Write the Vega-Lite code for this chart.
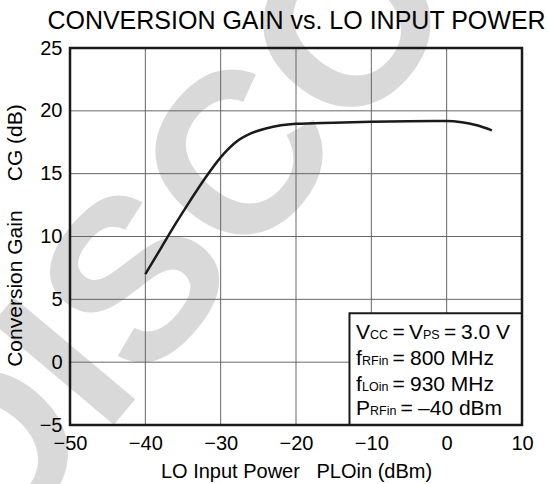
{
  "$schema": "https://vega.github.io/schema/vega-lite/v6.json",
  "width": 452,
  "height": 377,
  "autosize": {"type": "none"},
  "padding": {"left": 70, "top": 48, "right": 27, "bottom": 59},
  "background": "white",
  "config": {"view": {"stroke": null}, "font": "Liberation Sans"},
  "encoding": {
    "x": {"field": "x", "type": "quantitative", "scale": {"domain": [-50, 10], "nice": false, "zero": false},
      "axis": {"values": [-50, -40, -30, -20, -10, 0, 10], "title": "LO Input Power\u00a0\u00a0\u00a0PLOin (dBm)", "grid": false, "domain": false, "ticks": false, "labelPadding": 8, "labelFontSize": 20, "labelColor": "black", "labelFlush": false, "labelOverlap": false, "titleFontSize": 20, "titleFontWeight": "normal", "titleColor": "black", "titleBaseline": "alphabetic", "titleY": 52, "zindex": 1}},
    "y": {"field": "y", "type": "quantitative", "scale": {"domain": [-5, 25], "nice": false, "zero": false},
      "axis": {"values": [-5, 0, 5, 10, 15, 20, 25], "title": "Conversion Gain\u00a0\u00a0\u00a0\u00a0\u00a0CG (dB)", "grid": false, "domain": false, "ticks": false, "labelPadding": 8, "labelFontSize": 20, "labelColor": "black", "labelFlush": false, "labelOverlap": false, "titleFontSize": 21, "titleFontWeight": "normal", "titleColor": "black", "titleBaseline": "alphabetic", "titleAlign": "center", "titleAngle": -90, "titleX": -49, "titleY": 187, "zindex": 1}}
  },
  "layer": [
    {
      "layer": [
        {
          "data": {"values": [{"x": -35.6, "y": 9.7, "t": "DISCO"}]},
          "mark": {"type": "text", "font": "Liberation Sans", "fontWeight": "bold", "fontSize": 230, "angle": 310, "align": "center", "baseline": "middle", "color": "#d9d9d9"},
          "encoding": {"text": {"field": "t"}}
        },
        {
          "data": {"values": [{"x": -40, "y": -5, "y2": 25}, {"x": -30, "y": -5, "y2": 25}, {"x": -20, "y": -5, "y2": 25}, {"x": -10, "y": -5, "y2": 25}, {"x": 0, "y": -5, "y2": 25}]},
          "mark": {"type": "rule", "color": "#666666", "strokeWidth": 1},
          "encoding": {"y2": {"field": "y2"}}
        },
        {
          "data": {"values": [{"y": 0, "x": -50, "x2": 10}, {"y": 5, "x": -50, "x2": 10}, {"y": 10, "x": -50, "x2": 10}, {"y": 15, "x": -50, "x2": 10}, {"y": 20, "x": -50, "x2": 10}]},
          "mark": {"type": "rule", "color": "#666666", "strokeWidth": 1},
          "encoding": {"x2": {"field": "x2"}}
        },
        {
          "data": {"values": [
            {"x": -40, "y": 7.0}, {"x": -38, "y": 9.0}, {"x": -36, "y": 11.0}, {"x": -34, "y": 12.9},
            {"x": -32, "y": 14.7}, {"x": -30, "y": 16.3}, {"x": -28, "y": 17.5}, {"x": -26, "y": 18.2},
            {"x": -24, "y": 18.6}, {"x": -22, "y": 18.85}, {"x": -20, "y": 18.97}, {"x": -15, "y": 19.06},
            {"x": -10, "y": 19.13}, {"x": -5, "y": 19.18}, {"x": 0, "y": 19.2}, {"x": 2, "y": 19.1},
            {"x": 4, "y": 18.85}, {"x": 6, "y": 18.45}
          ]},
          "mark": {"type": "line", "color": "#1a1a1a", "strokeWidth": 2.5, "interpolate": "monotone"}
        },
        {
          "data": {"values": [{"x": -12.9, "x2": 10, "y": 3.9, "y2": -5}]},
          "mark": {"type": "rect", "fill": "white", "stroke": "#1a1a1a", "strokeWidth": 2},
          "encoding": {"x2": {"field": "x2"}, "y2": {"field": "y2"}}
        },
        {
          "data": {"values": [
            {"x": -12.03, "y": 1.86, "t": "V"}, {"x": -7.19, "y": 1.86, "t": "="}, {"x": -5.0, "y": 1.86, "t": "V"}, {"x": -0.35, "y": 1.86, "t": "="}, {"x": 1.91, "y": 1.86, "t": "3.0 V"},
            {"x": -12.03, "y": -0.2, "t": "f"}, {"x": -7.19, "y": -0.2, "t": "="}, {"x": -4.87, "y": -0.2, "t": "800 MHz"},
            {"x": -12.03, "y": -2.28, "t": "f"}, {"x": -7.19, "y": -2.28, "t": "="}, {"x": -4.87, "y": -2.28, "t": "930 MHz"},
            {"x": -12.03, "y": -4.2, "t": "P"}, {"x": -6.13, "y": -4.2, "t": "="}, {"x": -3.8, "y": -4.2, "t": "–40 dBm"}
          ]},
          "mark": {"type": "text", "font": "Liberation Sans", "fontSize": 21, "align": "left", "baseline": "alphabetic", "color": "black"},
          "encoding": {"text": {"field": "t"}}
        },
        {
          "data": {"values": [
            {"x": -10.17, "y": 1.86, "t": "CC"}, {"x": -3.14, "y": 1.86, "t": "PS"},
            {"x": -11.24, "y": -0.2, "t": "RFin"},
            {"x": -11.24, "y": -2.28, "t": "LOin"},
            {"x": -10.17, "y": -4.2, "t": "RFin"}
          ]},
          "mark": {"type": "text", "font": "Liberation Sans", "fontSize": 12.5, "align": "left", "baseline": "alphabetic", "color": "black"},
          "encoding": {"text": {"field": "t"}}
        }
      ]
    },
    {
      "data": {"values": [{"x": -50, "x2": 10, "y": -5, "y2": 25}]},
      "mark": {"type": "rect", "filled": false, "stroke": "#1a1a1a", "strokeWidth": 2.5},
      "encoding": {
        "x": {"field": "x", "type": "quantitative", "scale": {"domain": [-50, 10], "nice": false, "zero": false},
          "axis": {"orient": "top", "title": "CONVERSION GAIN vs. LO INPUT POWER", "labels": false, "ticks": false, "domain": false, "grid": false, "titleFontSize": 25, "titleFontWeight": "normal", "titleColor": "black", "titleBaseline": "alphabetic", "titleY": -20, "zindex": 1}},
        "x2": {"field": "x2"},
        "y2": {"field": "y2"}
      }
    }
  ],
  "resolve": {"axis": {"x": "independent"}}
}
